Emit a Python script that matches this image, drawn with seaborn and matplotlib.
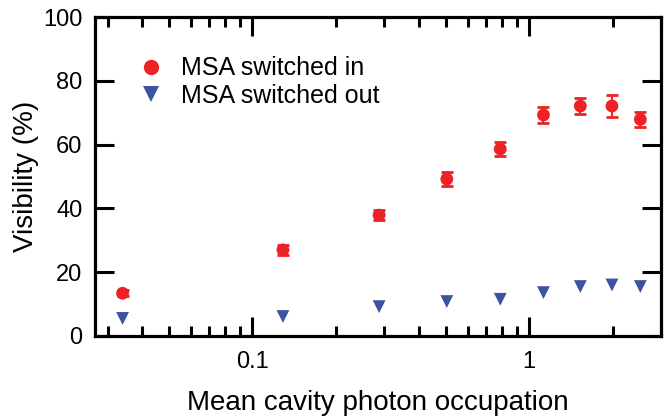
import numpy as np
import matplotlib
matplotlib.use('Agg')
import matplotlib.pyplot as plt
import matplotlib.ticker as mticker
import seaborn as sns
import pandas as pd

# Data.
occupation = [0.034, 0.129, 0.287, 0.504, 0.786, 1.126, 1.53, 1.99, 2.52]
vis_in = [13.4, 27.0, 37.9, 49.2, 58.6, 69.3, 72.1, 72.1, 67.9]
err_in = [1.0, 1.5, 1.5, 2.3, 2.3, 2.4, 2.4, 3.4, 2.4]
vis_out = [5.5, 6.1, 9.2, 10.8, 11.5, 13.6, 15.5, 16.0, 15.5]
labels = ['MSA switched in', 'MSA switched out']

red = '#ED2224'
blue = '#3A53A4'

sns.set_style('ticks', rc={'text.color': 'black', 'axes.labelcolor': 'black',
                           'axes.edgecolor': 'black'})
plt.rcParams['font.family'] = ['Liberation Sans', 'DejaVu Sans']

df = pd.DataFrame({
    'occupation': occupation * 2,
    'visibility': vis_in + vis_out,
    'state': [labels[0]] * len(vis_in) + [labels[1]] * len(vis_out),
})

fig = plt.figure(figsize=(6.68, 4.2), dpi=100)
ax = fig.add_axes([0.142, 0.2, 0.848, 0.7595])

ax.errorbar(occupation, vis_in, yerr=err_in, fmt='none', ecolor=red,
            elinewidth=1.5, capsize=4.5, capthick=2, zorder=2)
sns.scatterplot(data=df, x='occupation', y='visibility', hue='state',
                style='state', palette={labels[0]: red, labels[1]: blue},
                markers={labels[0]: 'o', labels[1]: 'v'}, s=85,
                edgecolor='none', linewidth=0, ax=ax, zorder=3)

ax.set_xscale('log')
ax.set_xlim(0.027, 3.0)
ax.set_ylim(0, 100)
ax.yaxis.set_major_locator(mticker.MultipleLocator(20))
ax.xaxis.set_major_locator(mticker.LogLocator(base=10))
ax.xaxis.set_minor_locator(mticker.LogLocator(base=10, subs=np.arange(2, 10)))
ax.xaxis.set_major_formatter(mticker.FuncFormatter(lambda v, p: f'{v:g}'))
ax.xaxis.set_minor_formatter(mticker.NullFormatter())

for s in ax.spines.values():
    s.set_linewidth(2.3)
    s.set_visible(True)
ax.tick_params(which='both', direction='in', top=True, right=True,
               width=2.2, labelsize=17, colors='black')
ax.tick_params(which='major', length=14)
ax.tick_params(which='minor', length=7)
ax.tick_params(axis='x', pad=11)
ax.tick_params(axis='y', pad=9)

ax.set_xlabel('Mean cavity photon occupation', fontsize=20, labelpad=12)
ax.set_ylabel('Visibility (%)', fontsize=20, labelpad=3)

leg = ax.legend(loc='upper left', frameon=False, fontsize=18,
                handletextpad=0.45, labelspacing=0.15, handlelength=1.5,
                bbox_to_anchor=(0.04, 0.924), borderaxespad=0.2)
for h in leg.legend_handles:
    h.set_markersize(11)

fig.savefig('out.png', dpi=100)
